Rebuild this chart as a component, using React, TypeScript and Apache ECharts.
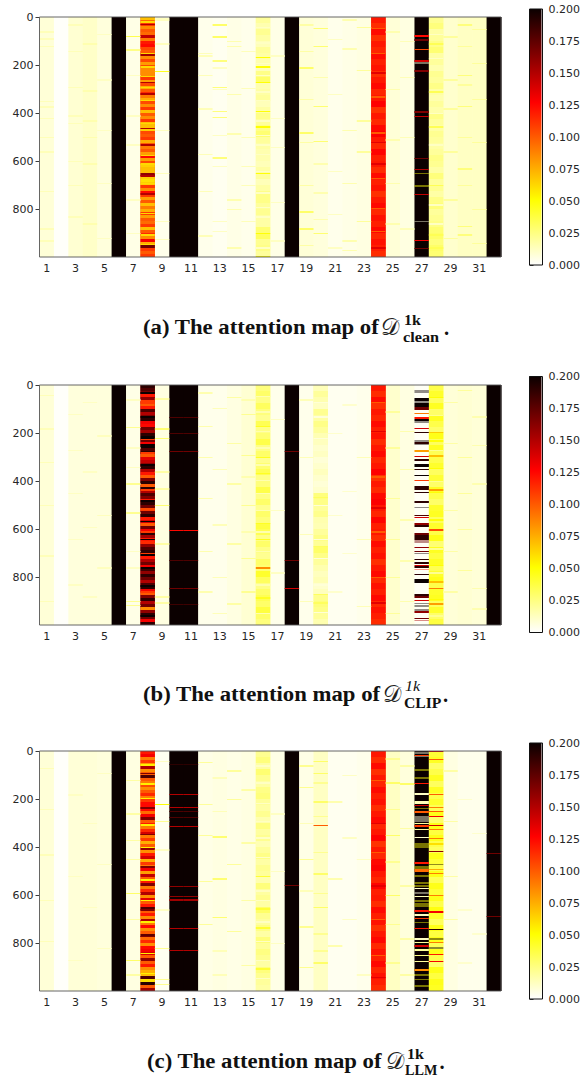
import React, { useEffect, useRef } from "react";
import * as echarts from "echarts";

// ---------- axes ----------
const columnTicks = [1, 3, 5, 7, 9, 11, 13, 15, 17, 19, 21, 23, 25, 27, 29, 31];
const rowTicks = [0, 200, 400, 600, 800];
const colourStops = [
  [0, "#ffffff"],
  [0.254, "#ffff00"],
  [0.635, "#ff0000"],
  [1, "#0b0000"],
] as [number, string][];

type Span = [number, number, number, number];
type Light = [number, number, number[]];

// ---------- (a) clean ----------
const cleanBase = [0.008, 0.001, 0.009, 0.011, 0.007, 0.2, 0.005, 0.1, 0.004, 0.2, 0.2, 0.004, 0.003, 0.005, 0.004, 0.02, 0.005, 0.2, 0.008, 0.007, 0.004, 0.005, 0.006, 0.12, 0.008, 0.006, 0.2, 0.02, 0.01, 0.012, 0.012, 0.2];
const cleanCol8 = [0.07, 0.095, 0.11, 0.085, 0.1, 0.095, 0.145, 0.09, 0.12, 0.125, 0.105, 0.1, 0.155, 0.085, 0.105, 0.08, 0.105, 0.085, 0.085, 0.085, 0.11, 0.08, 0.105, 0.075, 0.1, 0.115, 0.09, 0.075, 0.105, 0.085, 0.11, 0.07, 0.1, 0.085, 0.11, 0.07, 0.07, 0.065, 0.105, 0.1, 0.11, 0.075, 0.1, 0.09, 0.1, 0.08, 0.125, 0.08, 0.105, 0.065, 0.07, 0.07, 0.16, 0.065, 0.06, 0.065, 0.11, 0.085, 0.125, 0.11, 0.08, 0.1, 0.07, 0.09, 0.075, 0.11, 0.08, 0.1, 0.095, 0.11, 0.07, 0.1, 0.115, 0.085, 0.13, 0.075, 0.17, 0.11, 0.1, 0.11];
const cleanCol16 = [0.02, 0.016, 0.022, 0.018, 0.014, 0.02, 0.018, 0.016, 0.014, 0.024, 0.03, 0.016, 0.018, 0.02, 0.014, 0.018, 0.024, 0.02, 0.024, 0.028, 0.02, 0.018, 0.016, 0.016, 0.014, 0.018, 0.02, 0.014, 0.018, 0.024, 0.024, 0.02, 0.022, 0.018, 0.018, 0.028, 0.032, 0.022, 0.024, 0.02];
const col24Bands = [0.12, 0.114, 0.124, 0.113, 0.12, 0.116, 0.124, 0.118, 0.122, 0.114, 0.12, 0.125, 0.116, 0.12, 0.127, 0.112, 0.12, 0.115, 0.125, 0.128, 0.12, 0.116, 0.126, 0.118, 0.12, 0.114, 0.124, 0.118, 0.122, 0.113, 0.12, 0.125, 0.115, 0.122, 0.118, 0.125, 0.116, 0.122, 0.118, 0.114];
const cleanCol28 = [0.022, 0.026, 0.018, 0.02, 0.024, 0.028, 0.018, 0.02, 0.016, 0.022, 0.02, 0.024, 0.018, 0.016, 0.02, 0.017, 0.024, 0.02, 0.018, 0.022, 0.02, 0.018, 0.02, 0.024, 0.022, 0.018, 0.026, 0.02, 0.022, 0.018, 0.024, 0.026, 0.02, 0.022, 0.024, 0.028, 0.03, 0.026, 0.03, 0.028];
const cleanSpans: Span[] = [
  [27, 77, 83, 0.125], [27, 93, 99, 0.17], [27, 133, 139, 0.105], [27, 180, 186, 0.14], [27, 222, 228, 0.165],
  [27, 393, 399, 0.165], [27, 411, 417, 0.145], [27, 586, 592, 0.17], [27, 632, 638, 0.15],
  [27, 736, 742, 0.145], [27, 928, 934, 0.13], [27, 962, 968, 0.17],
];
const cleanSoft: Span[] = [
  [27, 189, 195, 0.008], [27, 648, 654, 0.05], [27, 702, 708, 0.05], [27, 849, 855, 0.006],
];
const cleanLight: Light[] = [
  [1, 0.014, [60, 88, 120, 350, 372, 420, 500, 560, 725, 880, 930]],
  [3, 0.014, [30, 140, 290, 410, 440, 600, 700, 830]],
  [4, 0.016, [110, 305, 430, 500, 610, 860]],
  [5, 0.012, [70, 260, 470, 690, 920]],
  [7, 0.035, [78]], [7, 0.024, [135]], [7, 0.012, [240, 410, 530, 760, 900]],
  [8, 0.15, [28, 270, 318, 462, 530, 660, 735]], [8, 0.062, [18, 148, 205, 245, 290, 345, 440, 575, 610, 690, 815, 905, 945]],
  [9, 0.045, [225]], [9, 0.013, [5, 12, 110, 470, 650, 850, 925]],
  [12, 0.014, [150, 160, 240, 380, 570, 725, 910]],
  [13, 0.03, [30, 80]], [13, 0.026, [180, 290, 390, 415, 585]], [13, 0.012, [210, 300, 490, 620, 850, 890]],
  [14, 0.016, [100, 120, 320, 485, 760, 800, 960]],
  [15, 0.014, [140, 295, 500, 620, 700, 850]],
  [16, 0.05, [165, 205, 270, 390, 455, 650, 900, 995]], [16, 0.012, [40, 105, 190, 240, 310, 345, 430, 490, 530, 570, 640, 730, 790, 830, 960]],
  [17, 0.012, [160, 420, 540, 770, 930]],
  [19, 0.03, [210, 480, 810, 880]], [19, 0.018, [30, 140, 340, 520, 700, 950]],
  [20, 0.028, [45, 120, 370, 515, 900]], [20, 0.016, [250, 610, 730, 840]],
  [21, 0.012, [90, 320, 640, 820, 960]],
  [22, 0.016, [10, 130, 470, 690, 930, 970]],
  [23, 0.02, [40, 220, 430, 560, 850]],
  [24, 0.1, [45, 150, 330, 480, 670, 795, 890]], [24, 0.135, [230, 520, 610, 960]],
  [25, 0.016, [60, 300, 510, 690, 860]],
  [26, 0.014, [100, 250, 500, 880]],
  [28, 0.034, [110, 310, 455, 700, 905, 960]], [28, 0.012, [70, 170, 400, 530, 780, 860]],
  [29, 0.02, [80, 260, 380, 560, 760, 920]],
  [30, 0.026, [30, 240, 370, 630, 870, 905]], [30, 0.02, [120, 280, 500, 700]],
  [31, 0.02, [50, 190, 340, 520, 800, 940]],
];

// ---------- (b) CLIP ----------
const clipBase = [0.008, 0.001, 0.007, 0.007, 0.007, 0.2, 0.005, 0.16, 0.006, 0.2, 0.2, 0.004, 0.004, 0.006, 0.009, 0.028, 0.004, 0.2, 0.004, 0.018, 0.003, 0.003, 0.004, 0.12, 0.01, 0.006, 0.002, 0.038, 0.008, 0.009, 0.008, 0.2];
const clipCol8 = [0.19, 0.18, 0.17, 0.12, 0.16, 0.11, 0.1, 0.12, 0.18, 0.15, 0.165, 0.19, 0.13, 0.125, 0.17, 0.155, 0.19, 0.2, 0.17, 0.13, 0.2, 0.18, 0.19, 0.1, 0.135, 0.145, 0.16, 0.19, 0.15, 0.12, 0.1, 0.165, 0.19, 0.1, 0.19, 0.15, 0.18, 0.165, 0.12, 0.19, 0.17, 0.105, 0.17, 0.19, 0.12, 0.14, 0.1, 0.17, 0.13, 0.19, 0.155, 0.12, 0.115, 0.16, 0.18, 0.19, 0.2, 0.12, 0.15, 0.17, 0.13, 0.185, 0.16, 0.19, 0.17, 0.15, 0.18, 0.19, 0.13, 0.1, 0.165, 0.19, 0.15, 0.17, 0.085, 0.16, 0.19, 0.17, 0.13, 0.19];
const clipCol16 = [0.026, 0.03, 0.024, 0.032, 0.026, 0.022, 0.034, 0.024, 0.028, 0.036, 0.024, 0.03, 0.022, 0.028, 0.034, 0.024, 0.026, 0.036, 0.024, 0.03, 0.022, 0.03, 0.026, 0.038, 0.034, 0.024, 0.03, 0.024, 0.022, 0.03, 0.028, 0.042, 0.032, 0.024, 0.03, 0.034, 0.03, 0.038, 0.03, 0.026];
const clipCol20 = [0.014, 0.02, 0.016, 0.012, 0.022, 0.018, 0.024, 0.02, 0.015, 0.013, 0.01, 0.012, 0.008, 0.01, 0.013, 0.01, 0.008, 0.01, 0.026, 0.024, 0.02, 0.023, 0.016, 0.015, 0.02, 0.024, 0.021, 0.03, 0.024, 0.02, 0.016, 0.013, 0.015, 0.01, 0.013, 0.023, 0.026, 0.024, 0.02, 0.016];
const clipCol28 = [0.036, 0.042, 0.032, 0.044, 0.03, 0.044, 0.036, 0.03, 0.046, 0.032, 0.044, 0.034, 0.036, 0.042, 0.032, 0.04, 0.03, 0.044, 0.036, 0.03, 0.042, 0.044, 0.032, 0.042, 0.036, 0.046, 0.028, 0.044, 0.038, 0.044, 0.034, 0.042, 0.046, 0.036, 0.042, 0.044, 0.032, 0.042, 0.03, 0.038];
const clipSpans: Span[] = [
  [27, 55, 66, 0.2], [27, 74, 90, 0.2], [27, 90, 104, 0.17], [27, 116, 122, 0.09],
  [27, 132, 140, 0.12], [27, 140, 150, 0.2], [27, 178, 184, 0.14], [27, 195, 202, 0.19], [27, 238, 244, 0.19],
  [27, 272, 278, 0.08], [27, 294, 300, 0.14], [27, 310, 316, 0.19], [27, 331, 342, 0.2], [27, 348, 353, 0.19], [27, 374, 380, 0.2],
  [27, 395, 401, 0.11], [27, 422, 428, 0.19], [27, 431, 437, 0.19], [27, 447, 452, 0.19], [27, 482, 491, 0.19], [27, 540, 545, 0.18], [27, 550, 555, 0.14],
  [27, 577, 582, 0.16], [27, 585, 590, 0.19], [27, 615, 625, 0.17], [27, 625, 645, 0.19], [27, 674, 680, 0.16], [27, 690, 695, 0.17],
  [27, 724, 730, 0.19], [27, 738, 744, 0.19], [27, 748, 753, 0.14], [27, 756, 762, 0.19], [27, 786, 792, 0.19],
  [27, 808, 824, 0.2], [27, 870, 880, 0.19], [27, 880, 888, 0.17], [27, 895, 901, 0.14],
  [27, 943, 950, 0.16], [27, 969, 974, 0.17],
  [28, 195, 201, 0.065], [28, 293, 300, 0.07], [28, 435, 440, 0.08], [28, 602, 608, 0.105], [28, 815, 824, 0.07], [28, 845, 850, 0.09], [28, 910, 915, 0.08],
  [10, 133, 137, 0.18], [11, 133, 137, 0.18], [10, 198, 202, 0.18], [11, 198, 202, 0.18], [10, 273, 280, 0.17], [11, 273, 280, 0.17],
  [10, 605, 609, 0.125], [11, 605, 609, 0.125], [10, 730, 734, 0.18], [11, 730, 734, 0.18], [10, 847, 851, 0.17], [11, 847, 851, 0.17], [10, 914, 918, 0.185], [11, 914, 918, 0.185],
  [18, 273, 277, 0.17], [18, 730, 734, 0.17], [18, 847, 851, 0.14],
  [16, 760, 765, 0.085],
];
const clipSoft: Span[] = [
  [27, 20, 32, 0.2], [27, 66, 74, 0.2], [27, 150, 160, 0.2], [27, 228, 236, 0.2], [27, 246, 252, 0.2], [27, 508, 514, 0.2],
  [27, 645, 660, 0.17], [27, 700, 706, 0.2], [27, 766, 771, 0.12], [27, 908, 914, 0.2], [27, 916, 924, 0.2], [27, 934, 941, 0.2], [27, 979, 984, 0.15],
];
const clipLight: Light[] = [
  [1, 0.014, [40, 180, 320, 500, 710, 900]],
  [3, 0.012, [120, 270, 450, 640, 830]], [4, 0.012, [70, 360, 590, 880]], [5, 0.013, [210, 540, 760]],
  [7, 0.022, [175, 410, 530, 900, 915]], [7, 0.012, [60, 260, 340, 690, 760]],
  [8, 0.11, [72, 225, 280, 435, 520, 610, 700, 860]], [8, 0.2, [30, 130, 245, 330, 480, 565, 640, 760, 835, 960]],
  [9, 0.028, [180, 220, 500]], [9, 0.018, [55, 360, 430, 660, 880, 905]],
  [12, 0.016, [30, 170, 300, 470, 690, 860]], [13, 0.014, [95, 350, 580, 800, 950]],
  [14, 0.018, [50, 240, 410, 660, 910]], [15, 0.022, [120, 290, 500, 720, 860]], [15, 0.016, [60, 380, 610]],
  [16, 0.016, [45, 110, 190, 260, 330, 395, 450, 520, 610, 690, 830, 950]], [16, 0.044, [170, 300, 365, 575, 640, 885]],
  [17, 0.012, [140, 520, 780]], [19, 0.014, [60, 300, 620, 900]],
  [20, 0.008, [70, 130, 220, 500, 640, 720, 830, 945]], [20, 0.032, [465, 670, 870, 905]],
  [21, 0.01, [200, 540, 860]], [22, 0.01, [80, 440, 700]], [23, 0.014, [300, 640, 920]],
  [24, 0.1, [70, 380, 610, 800]], [24, 0.135, [190, 510, 905]],
  [25, 0.02, [110, 260, 470, 640, 800, 950]], [26, 0.016, [190, 350, 560, 730, 900]],
  [28, 0.05, [50, 230, 345, 445, 560, 750, 890]], [28, 0.022, [125, 270, 400, 680, 780, 960]],
  [29, 0.018, [70, 240, 520, 690, 860]], [30, 0.02, [20, 300, 450, 600, 770]], [31, 0.016, [130, 250, 410, 845, 930]],
];

// ---------- (c) LLM ----------
const llmBase = [0.008, 0.001, 0.008, 0.008, 0.007, 0.2, 0.006, 0.1, 0.003, 0.2, 0.2, 0.005, 0.006, 0.005, 0.006, 0.022, 0.005, 0.2, 0.005, 0.012, 0.003, 0.003, 0.004, 0.12, 0.012, 0.007, 0.2, 0.036, 0.006, 0.004, 0.004, 0.2];
const llmCol8 = [0.12, 0.13, 0.09, 0.11, 0.08, 0.15, 0.085, 0.1, 0.18, 0.1, 0.09, 0.105, 0.085, 0.1, 0.115, 0.09, 0.11, 0.125, 0.125, 0.125, 0.095, 0.13, 0.165, 0.1, 0.12, 0.09, 0.115, 0.14, 0.09, 0.11, 0.075, 0.1, 0.16, 0.085, 0.12, 0.14, 0.075, 0.11, 0.09, 0.13, 0.08, 0.145, 0.1, 0.12, 0.165, 0.09, 0.115, 0.15, 0.085, 0.135, 0.1, 0.12, 0.18, 0.1, 0.12, 0.085, 0.15, 0.09, 0.125, 0.085, 0.1, 0.175, 0.095, 0.115, 0.085, 0.125, 0.13, 0.14, 0.1, 0.16, 0.1, 0.12, 0.085, 0.075, 0.07, 0.18, 0.06, 0.19, 0.1, 0.155];
const llmCol16 = [0.022, 0.026, 0.018, 0.028, 0.022, 0.018, 0.024, 0.026, 0.02, 0.018, 0.022, 0.016, 0.025, 0.019, 0.022, 0.015, 0.02, 0.024, 0.018, 0.022, 0.02, 0.016, 0.026, 0.019, 0.022, 0.018, 0.03, 0.022, 0.019, 0.024, 0.018, 0.026, 0.02, 0.025, 0.022, 0.018, 0.026, 0.022, 0.02, 0.018];
const llmCol28 = [0.04, 0.044, 0.03, 0.036, 0.044, 0.032, 0.044, 0.036, 0.042, 0.034, 0.046, 0.03, 0.046, 0.038, 0.046, 0.036, 0.032, 0.046, 0.04, 0.036, 0.046, 0.034, 0.046, 0.04, 0.046, 0.036, 0.048, 0.042, 0.032, 0.046, 0.038, 0.046, 0.034, 0.046, 0.036, 0.03, 0.046, 0.038, 0.046, 0.044];
const llmSpans: Span[] = [
  [27, 15, 20, 0.11], [27, 132, 138, 0.12], [27, 176, 182, 0.012],
  [27, 208, 220, 0.014], [27, 224, 230, 0.14], [27, 250, 258, 0.1], [27, 300, 306, 0.02],
  [27, 310, 318, 0.11], [27, 325, 330, 0.02], [27, 358, 364, 0.01], [27, 463, 469, 0.12],
  [27, 492, 503, 0.095], [27, 570, 575, 0.012], [27, 604, 610, 0.015], [27, 664, 670, 0.12], [27, 681, 686, 0.012], [27, 695, 702, 0.11],
  [27, 737, 743, 0.12], [27, 781, 786, 0.012], [27, 797, 802, 0.02], [27, 810, 815, 0.14], [27, 827, 832, 0.02], [27, 851, 856, 0.025], [27, 876, 881, 0.02],
  [27, 910, 915, 0.085],
  [28, 0, 6, 0.145], [28, 33, 38, 0.1], [28, 178, 183, 0.1], [28, 234, 239, 0.09], [28, 248, 253, 0.1], [28, 269, 274, 0.13], [28, 309, 314, 0.14],
  [28, 324, 329, 0.09], [28, 362, 367, 0.09], [28, 385, 392, 0.06], [28, 415, 420, 0.16], [28, 490, 495, 0.075], [28, 508, 513, 0.09],
  [28, 598, 603, 0.09], [28, 668, 673, 0.13], [28, 741, 746, 0.19], [28, 794, 799, 0.09], [28, 845, 850, 0.12], [28, 874, 879, 0.13],
  [10, 55, 59, 0.19], [11, 55, 59, 0.19], [10, 180, 184, 0.15], [11, 180, 184, 0.15], [10, 234, 238, 0.15], [11, 234, 238, 0.15], [10, 248, 253, 0.18], [11, 248, 253, 0.18],
  [10, 274, 277, 0.18], [11, 274, 277, 0.18], [10, 311, 315, 0.15], [11, 311, 315, 0.15], [10, 563, 567, 0.16], [11, 563, 567, 0.16], [10, 603, 607, 0.16], [11, 603, 607, 0.16],
  [10, 618, 623, 0.155], [11, 618, 623, 0.155], [10, 737, 741, 0.15], [11, 737, 741, 0.15], [10, 828, 832, 0.15], [11, 828, 832, 0.15],
  [18, 558, 561, 0.17], [32, 425, 428, 0.17], [32, 688, 691, 0.17], [20, 310, 314, 0.1],
];
const llmSoft: Span[] = [
  [27, 5, 12, 0.006], [27, 20, 27, 0.006], [27, 77, 82, 0.05], [27, 110, 116, 0.05], [27, 236, 240, 0.05], [27, 272, 290, 0.006], [27, 290, 296, 0.006],
  [27, 385, 396, 0.05], [27, 396, 405, 0.05], [27, 480, 490, 0.05], [27, 515, 524, 0.05], [27, 545, 556, 0.05], [27, 558, 566, 0.05],
  [27, 586, 596, 0.006], [27, 620, 630, 0.05], [27, 634, 650, 0.05], [27, 712, 718, 0.05], [27, 931, 937, 0.05], [27, 949, 954, 0.05], [27, 977, 983, 0.05],
  [28, 469, 474, 0.2], [28, 781, 786, 0.2], [28, 818, 823, 0.2],
];
const llmLight: Light[] = [
  [1, 0.014, [70, 240, 430, 620, 790]], [3, 0.012, [180, 520, 870]], [4, 0.012, [300, 650]], [5, 0.012, [90, 470, 820]],
  [7, 0.03, [590, 870]], [7, 0.018, [120, 260, 370, 450, 700, 930]],
  [8, 0.055, [55, 135, 195, 305, 400, 535, 620, 710, 840, 925]], [8, 0.165, [90, 235, 345, 480, 660, 770]],
  [9, 0.05, [220]], [9, 0.022, [290, 820, 950, 970]], [9, 0.012, [40, 410, 660]],
  [12, 0.02, [45, 220, 350, 540, 720]], [13, 0.028, [355, 530, 690]], [13, 0.014, [110, 250, 830, 930]],
  [14, 0.02, [80, 200, 470, 750]], [15, 0.018, [160, 380, 620, 890]],
  [16, 0.012, [60, 130, 215, 290, 360, 440, 580, 620, 710, 790, 870, 945]], [16, 0.04, [520, 655, 735, 905]],
  [17, 0.012, [260, 500, 800]],
  [19, 0.022, [60, 150, 450, 730, 900]], [19, 0.014, [300, 580]],
  [20, 0.03, [40, 90, 210, 510, 650, 880]], [20, 0.022, [130, 270, 420, 590, 760, 830]],
  [21, 0.016, [210, 530, 810]], [22, 0.012, [100, 360, 700]], [23, 0.012, [450, 930]],
  [24, 0.1, [120, 420, 700, 850]], [24, 0.135, [300, 560, 940]],
  [25, 0.03, [130, 350, 600]], [25, 0.022, [30, 240, 460, 720, 880]],
  [26, 0.03, [135]], [26, 0.018, [60, 320, 560, 780, 930]],
  [29, 0.018, [80, 290, 520, 700]], [30, 0.01, [200, 660, 880]], [31, 0.01, [340, 760]],
];

// ---------- panels ----------
const stripeRows = 6;
const rowCount = 1000;
const softOpacity = 0.45;

function bands(col: number, values: number[]) {
  const h = rowCount / values.length;
  return values.map((v, i) => [col, i * h, (i + 1) * h, v, 1]);
}
function panelCells(base: number[], columns: [number, number[]][], light: Light[], spans: Span[], soft: Span[]) {
  const cells: number[][] = base.map((v, i) => [i + 1, 0, rowCount, v, 1]);
  columns.forEach(([c, vals]) => cells.push(...bands(c, vals)));
  light.forEach(([c, v, rows]) => rows.forEach((r) => cells.push([c, r, r + stripeRows, v, 1])));
  spans.forEach((s) => cells.push([...s, 1]));
  soft.forEach((s) => cells.push([...s, softOpacity]));
  return cells;
}

const panels = [
  { top: 17, barTop: 9, cells: panelCells(cleanBase, [[8, cleanCol8], [16, cleanCol16], [24, col24Bands], [28, cleanCol28]], cleanLight, cleanSpans, cleanSoft) },
  { top: 385, barTop: 376.5, cells: panelCells(clipBase, [[8, clipCol8], [16, clipCol16], [20, clipCol20], [24, col24Bands], [28, clipCol28]], clipLight, clipSpans, clipSoft) },
  { top: 751, barTop: 743, cells: panelCells(llmBase, [[8, llmCol8], [16, llmCol16], [24, col24Bands], [28, llmCol28]], llmLight, llmSpans, llmSoft) },
];

const captions = [
  { y: 327, x: 143, dx: 381, main: "(a) The attention map of ", sup: "1k", supX: 404, supY: -7, supItalic: false, sub: "clean", subX: 403, subY: 10, subScale: 1.12, dot: 444 },
  { y: 694, x: 143, dx: 383, main: "(b) The attention map of ", sup: "1k", supX: 405, supY: -8, supItalic: true, sub: "CLIP", subX: 404, subY: 9, subScale: 1.08, dot: 443 },
  { y: 1061, x: 147, dx: 386, main: "(c) The attention map of ", sup: "1k", supX: 407, supY: -7, supItalic: false, sub: "LLM", subX: 405, subY: 9, subScale: 0.98, dot: 439.5 },
];

function hex(c: string) {
  return [1, 3, 5].map((i) => parseInt(c.slice(i, i + 2), 16));
}
function heat(v: number) {
  const t = Math.min(1, Math.max(0, v / 0.2));
  for (let i = 1; i < colourStops.length; i++) {
    if (t <= colourStops[i][0]) {
      const [a, ca] = colourStops[i - 1];
      const [b, cb] = colourStops[i];
      const k = (t - a) / (b - a);
      const x = hex(ca);
      const y = hex(cb);
      return `rgb(${x.map((p, j) => Math.round(p + (y[j] - p) * k)).join(",")})`;
    }
  }
  return colourStops[colourStops.length - 1][1];
}

const TICK = "#262626";
const tickFont = { fontFamily: "DejaVu Sans", fontSize: 11, color: TICK };

export default function App() {
  const ref = useRef<HTMLDivElement>(null);
  useEffect(() => {
    const chart = echarts.init(ref.current!, undefined, { renderer: "svg" });
    const PLOT_L = 39.5;
    const PLOT_W = 461.5;
    const PLOT_H = 240;
    const BAR_L = 529.5;
    const BAR_W = 13;
    const BAR_H = 256;

    const grid: any[] = [];
    const xAxis: any[] = [];
    const yAxis: any[] = [];
    const series: any[] = [];
    const graphic: any[] = [];

    panels.forEach((p, i) => {
      grid.push({ left: PLOT_L, top: p.top, width: PLOT_W, height: PLOT_H, show: false });
      xAxis.push({
        type: "value", gridIndex: i * 2, min: 0.5, max: 32.5, splitLine: { show: false },
        axisLine: { show: false },
        axisTick: { show: true, length: 4, lineStyle: { color: TICK, width: 0.9 }, customValues: columnTicks },
        axisLabel: { ...tickFont, margin: 6, customValues: columnTicks, formatter: (v: number) => String(v) },
      });
      yAxis.push({
        type: "value", gridIndex: i * 2, inverse: true, min: 0, max: rowCount, splitLine: { show: false },
        axisLine: { show: false },
        axisTick: { show: true, length: 4, lineStyle: { color: TICK, width: 0.9 }, customValues: rowTicks },
        axisLabel: { ...tickFont, margin: 6, customValues: rowTicks, formatter: (v: number) => String(v) },
      });
      series.push({
        type: "custom", xAxisIndex: i * 2, yAxisIndex: i * 2, clip: true, silent: true,
        data: p.cells, encode: { x: 0, y: [1, 2] },
        renderItem: (_: any, api: any) => {
          const a = api.coord([api.value(0) - 0.5, api.value(1)]);
          const b = api.coord([api.value(0) + 0.5, api.value(2)]);
          const whole = api.value(1) === 0 && api.value(2) === rowCount;
          const y0 = Math.round(a[1]);
          const y1 = Math.max(y0 + 1, Math.round(b[1]));
          return {
            type: "rect",
            shape: { x: a[0], y: y0, width: b[0] - a[0] + (whole ? 0.6 : 0), height: y1 - y0 },
            style: { fill: heat(api.value(3)), opacity: api.value(4) },
          };
        },
      });

      grid.push({ left: BAR_L, top: p.barTop, width: BAR_W, height: BAR_H, show: false });
      xAxis.push({ type: "value", gridIndex: i * 2 + 1, min: 0, max: 1, show: false });
      yAxis.push({
        type: "value", gridIndex: i * 2 + 1, position: "right", min: 0, max: 0.2, interval: 0.025,
        splitLine: { show: false }, axisLine: { show: false },
        axisTick: { show: true, length: 4, lineStyle: { color: TICK, width: 0.9 } },
        axisLabel: { ...tickFont, margin: 7, formatter: (v: number) => v.toFixed(3) },
      });
      series.push({
        type: "custom", xAxisIndex: i * 2 + 1, yAxisIndex: i * 2 + 1, silent: true,
        data: [[0, 0, 1, 0.2]], encode: { x: [0, 2], y: [1, 3] },
        renderItem: (_: any, api: any) => {
          const a = api.coord([api.value(0), api.value(3)]);
          const b = api.coord([api.value(2), api.value(1)]);
          return {
            type: "rect",
            shape: { x: a[0], y: a[1], width: b[0] - a[0], height: b[1] - a[1] },
            style: {
              fill: new echarts.graphic.LinearGradient(0, 1, 0, 0, colourStops.map(([offset, color]) => ({ offset, color }))),
            },
          };
        },
      });

      graphic.push({ type: "rect", z: 50, silent: true, shape: { x: PLOT_L, y: p.top, width: PLOT_W, height: PLOT_H }, style: { fill: "none", stroke: "#555", lineWidth: 0.9 } });
      graphic.push({ type: "rect", z: 50, silent: true, shape: { x: BAR_L, y: p.barTop, width: BAR_W, height: BAR_H }, style: { fill: "none", stroke: "#111", lineWidth: 1 } });
    });

    const serif = "Liberation Serif";
    captions.forEach((c) => {
      const txt = (x: number, y: number, text: string, size: number, italic = false, sx = 1) => ({
        type: "text", x, y, z: 60, silent: true, scaleX: sx,
        style: { text, fontFamily: serif, fontWeight: italic ? "normal" : "bold", fontStyle: italic ? "italic" : "normal", fontSize: size, fill: "#111", verticalAlign: "middle", align: "left" },
      });
      graphic.push(txt(c.x, c.y, c.main, 20.5, false, 1.11));
      graphic.push({
        type: "text", x: c.dx, y: c.y, z: 60, silent: true,
        style: { text: "\u{1D49F}", fontFamily: "DejaVu Sans", fontSize: 23, fill: "#222", verticalAlign: "middle", align: "left" },
      });
      graphic.push(txt(c.supX, c.y + c.supY, c.sup, 14.5, c.supItalic, 1.1));
      graphic.push(txt(c.subX, c.y + c.subY, c.sub, 14.5, false, c.subScale));
      graphic.push(txt(c.dot, c.y + 1, ".", 20.5));
    });

    chart.setOption({ animation: false, backgroundColor: "#fff", grid, xAxis, yAxis, series, graphic });
    return () => chart.dispose();
  }, []);
  return <div ref={ref} style={{ position: "absolute", left: 0, top: 0, width: 583, height: 1078 }} />;
}
